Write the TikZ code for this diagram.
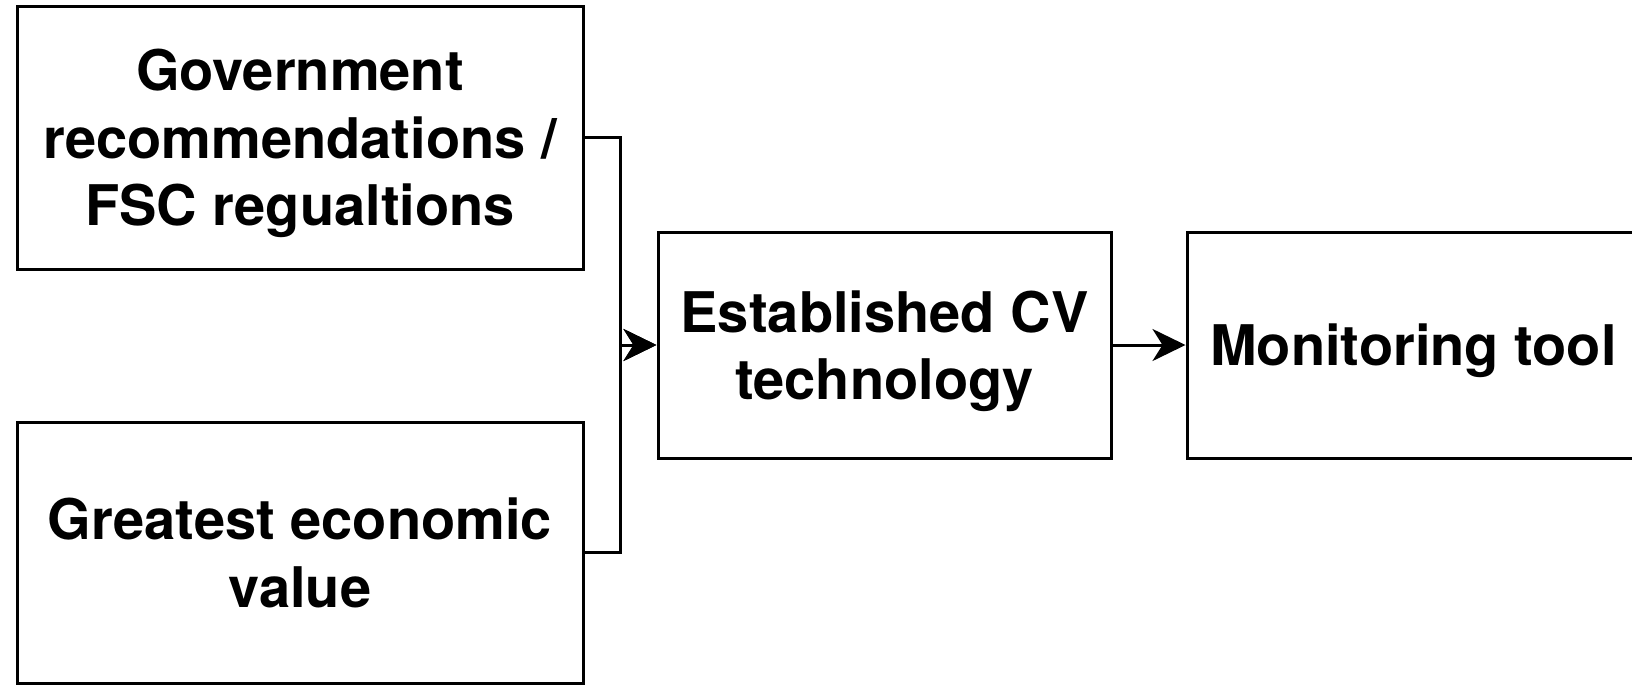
\documentclass[tikz,border=0pt]{standalone}
\usepackage{fontspec}
\setsansfont{TeX Gyre Heros}
\usetikzlibrary{arrows.meta}
\tikzset{
  box/.style={draw=black, line width=3pt, fill=white, inner sep=0pt, align=center,
    text depth=0pt, font=\fontsize{56}{67.5}\selectfont\sffamily\bfseries},
  conn/.style={draw=black, line width=3pt, -{Stealth[length=33pt,width=32pt,inset=10pt]}},
}
\begin{document}
\begin{tikzpicture}[x=1pt,y=-1pt]
\useasboundingbox (0,0) rectangle (1632,686);
\node[box, minimum width=566pt, minimum height=263pt] (gov) at (300,137.5)
  {Government\\recommendations /\\FSC regualtions};
\node[box, minimum width=566pt, minimum height=261pt] (eco) at (300,552.5)
  {Greatest economic\\value};
\node[box, minimum width=453pt, minimum height=226pt] (cv) at (884.5,345)
  {Established CV\\technology};
\node[box, minimum width=453pt, minimum height=226pt] (mon) at (1413.5,345)
  {Monitoring tool};
\coordinate (j) at (620,345);
\draw[conn] (gov.east) -| (j) -- (cv.west);
\draw[conn] (eco.east) -| (j) -- (cv.west);
\draw[conn] (cv.east) -- (mon.west);
\end{tikzpicture}
\end{document}
